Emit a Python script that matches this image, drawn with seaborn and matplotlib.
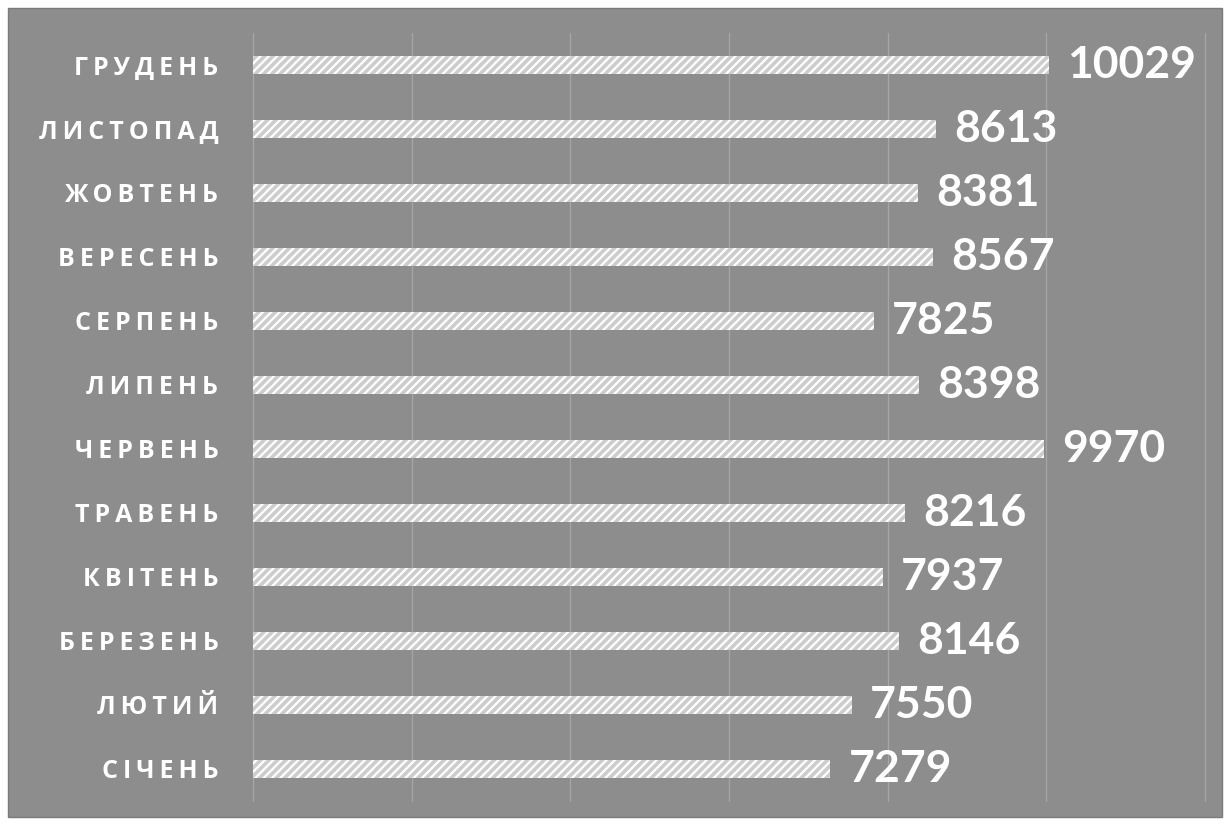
import matplotlib
matplotlib.use("Agg")
import matplotlib.pyplot as plt
import seaborn as sns
import pandas as pd
from matplotlib.patches import Rectangle

months = ["ГРУДЕНЬ", "ЛИСТОПАД", "ЖОВТЕНЬ", "ВЕРЕСЕНЬ", "СЕРПЕНЬ", "ЛИПЕНЬ",
          "ЧЕРВЕНЬ", "ТРАВЕНЬ", "КВІТЕНЬ", "БЕРЕЗЕНЬ", "ЛЮТИЙ", "СІЧЕНЬ"]
values = [10029, 8613, 8381, 8567, 7825, 8398, 9970, 8216, 7937, 8146, 7550, 7279]

sns.set_theme(style="white")
plt.rcParams['font.family'] = ['Open Sans', 'DejaVu Sans']
plt.rcParams['hatch.linewidth'] = 1.6

bg = "#8d8d8d"
fig = plt.figure(figsize=(12.31, 8.25), dpi=100, facecolor="white")
fig.patches.append(Rectangle((8/1231, 8/825), 1214/1231, 809/825,
                             transform=fig.transFigure, facecolor=bg,
                             edgecolor="#7a7a7a", linewidth=1, zorder=-10))
ax = fig.add_axes([253/1231, 1 - 801/825, (1205 - 253)/1231, 768/825])
ax.set_facecolor("none")

df = pd.DataFrame({"month": months, "value": values})
sns.barplot(data=df, y="month", x="value", order=months, orient="h",
            width=0.27, color="#cfcfcf", ax=ax, zorder=3)
for p in ax.patches:
    p.set_hatch("////")
    p.set_edgecolor("white")
    p.set_linewidth(0)
    p.set_facecolor("#cdcdcd")

ax.set_xlim(0, 12000)
ax.set_xticks(range(0, 12001, 2000))
ax.grid(axis="x", color="#a6a6a6", linewidth=0.9, zorder=0)
ax.grid(axis="y", visible=False)
for gl in ax.get_xgridlines():
    gl.set_clip_on(False)
ax.tick_params(axis="x", labelbottom=False, length=0)
ax.tick_params(axis="y", length=0, pad=25)
for s in ax.spines.values():
    s.set_visible(False)
ax.set_xlabel("")
ax.set_ylabel("")

spaced = ["\u2009".join(list(m)) for m in months]
ax.set_yticks(range(len(months)))
ax.set_yticklabels(spaced, color="white", fontsize=18, fontweight="bold",
                   family=['Open Sans', 'DejaVu Sans'])

for i, v in enumerate(values):
    ax.text(v + 230, i, f"{v}", va="center", ha="left", color="white",
            fontsize=32, fontweight="bold", family=['Lato', 'DejaVu Sans'],
            zorder=4)

fig.savefig("out.png", dpi=100, facecolor="white")
